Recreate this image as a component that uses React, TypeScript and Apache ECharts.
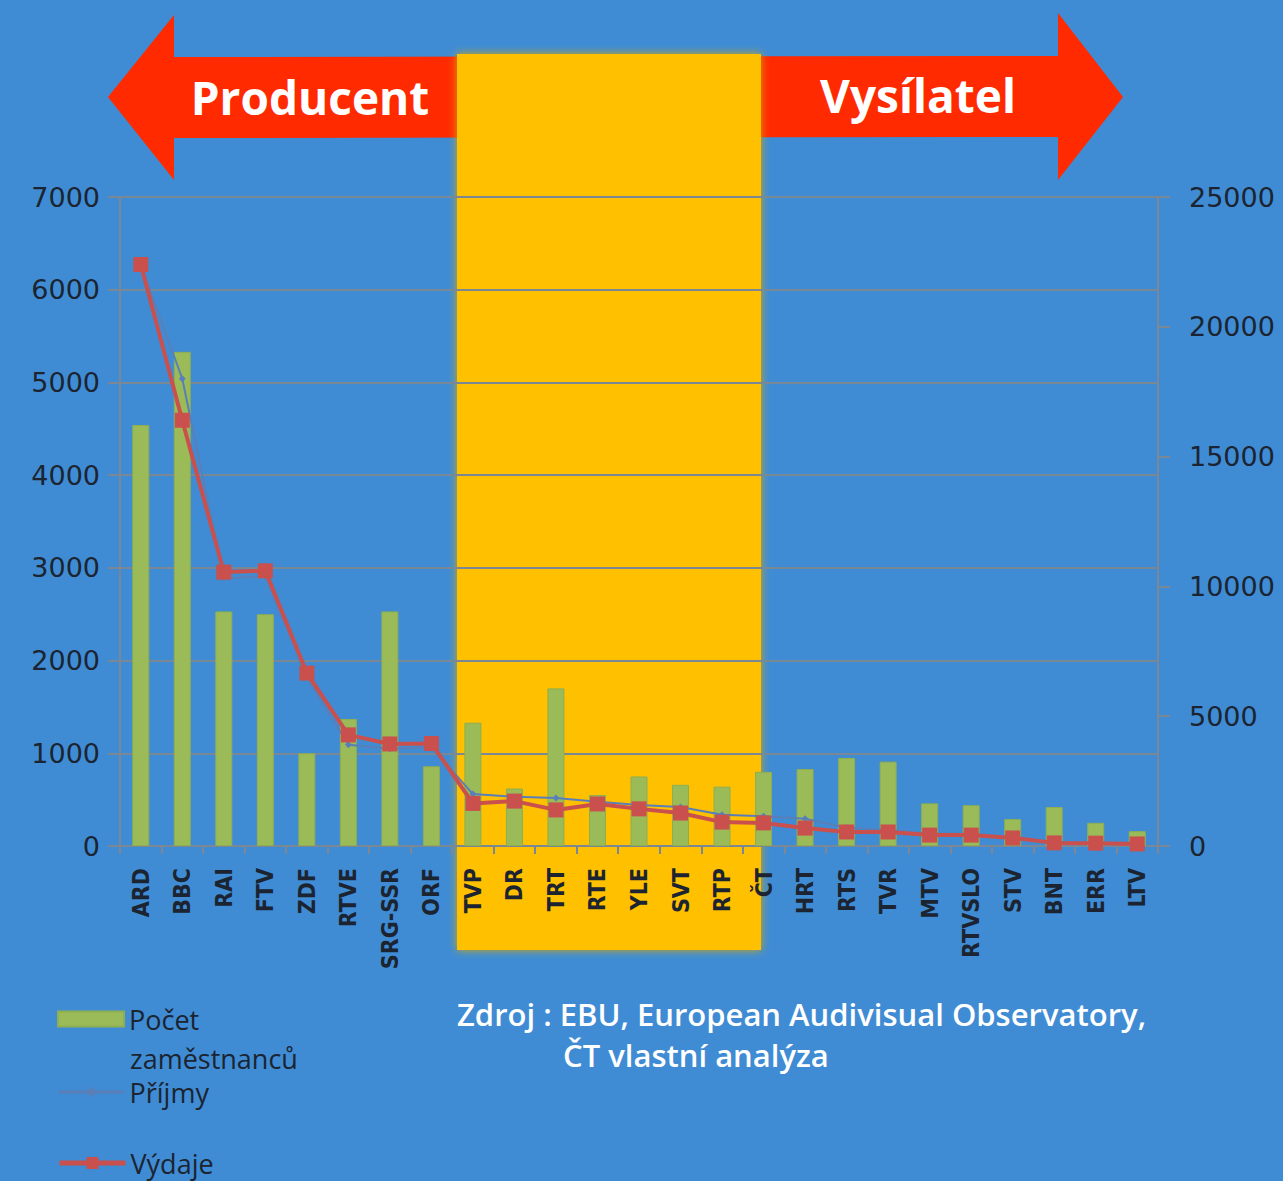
import React, { useEffect, useRef } from "react";
import * as echarts from "echarts";

const categories = ["ARD","BBC","RAI","FTV","ZDF","RTVE","SRG-SSR","ORF","TVP","DR","TRT","RTE","YLE","SVT","RTP","ČT","HRT","RTS","TVR","MTV","RTVSLO","STV","BNT","ERR","LTV"];
const employees = [4540,5330,2530,2500,1000,1370,2530,860,1330,620,1700,550,750,660,640,800,830,950,910,460,440,290,420,250,160];
const revenues = [22400,18000,10300,10400,6500,3900,3750,3800,2000,1900,1850,1700,1580,1500,1200,1150,1050,700,620,480,470,350,150,130,100];
const expenses = [22400,16400,10550,10600,6660,4280,3930,3950,1640,1730,1390,1620,1430,1270,920,890,690,540,540,420,420,310,120,110,80];
const leftTicks = { min: 0, max: 7000, interval: 1000 };
const rightTicks = { min: 0, max: 25000, interval: 5000 };

const BG = "#3f8cd4";
const GRID = "#7a8896";
const TXT = "#1b2430";
const AXFONT = "DejaVu Sans";

export default function App() {
  const ref = useRef<HTMLDivElement>(null);
  useEffect(() => {
    const chart = echarts.init(ref.current!, null, { renderer: "svg" });
    const legendText = { fontFamily: "Open Sans", fontSize: 27, lineHeight: 32, color: TXT };
    chart.setOption({
      animation: false,
      backgroundColor: BG,
      grid: { left: 120, right: 125, top: 197, bottom: 335 },
      legend: [
        {
          data: [{ name: "Počet zaměstnanců", icon: "rect" }], orient: "vertical", left: 57, top: 1003, padding: 0,
          itemWidth: 66, itemHeight: 15, formatter: () => "Počet",
          textStyle: legendText,
        },
        {
          data: ["Příjmy"], orient: "vertical", left: 57, top: 1076, padding: 0,
          itemWidth: 66, itemHeight: 14, lineStyle: { width: 3 },
          textStyle: legendText,
        },
        {
          data: ["Výdaje"], orient: "vertical", left: 57, top: 1147, padding: 0,
          itemWidth: 66, itemHeight: 15, lineStyle: { width: 5 },
          textStyle: legendText,
        },
      ],
      xAxis: {
        type: "category",
        data: categories,
        boundaryGap: true,
        axisLine: { show: true, lineStyle: { color: GRID, width: 2 } },
        axisTick: { show: true, length: 8, alignWithLabel: false, lineStyle: { color: GRID, width: 2 } },
        axisLabel: {
          rotate: 90, margin: 22, interval: 0, color: TXT,
          fontFamily: "DejaVu Sans Condensed", fontSize: 23, fontWeight: "bold",
        },
      },
      yAxis: [
        {
          type: "value", ...leftTicks, position: "left",
          axisLine: { show: true, lineStyle: { color: GRID, width: 2 } },
          axisTick: { show: true, length: 12, lineStyle: { color: GRID, width: 2 } },
          splitLine: { show: true, lineStyle: { color: GRID, width: 2 } },
          axisLabel: { margin: 20, color: TXT, fontFamily: AXFONT, fontSize: 27, formatter: (v: number) => String(v) },
        },
        {
          type: "value", ...rightTicks, position: "right",
          axisLine: { show: true, lineStyle: { color: GRID, width: 2 } },
          axisTick: { show: true, length: 12, lineStyle: { color: GRID, width: 2 } },
          splitLine: { show: false },
          axisLabel: { margin: 31, color: TXT, fontFamily: AXFONT, fontSize: 27, formatter: (v: number) => String(v) },
        },
      ],
      series: [
        {
          name: "Počet zaměstnanců", type: "bar", data: employees, yAxisIndex: 0,
          barWidth: 17, itemStyle: { color: "#9bbb59", borderColor: "#8fae50", borderWidth: 1 }, z: 2,
        },
        {
          name: "Příjmy", type: "line", data: revenues, yAxisIndex: 1,
          lineStyle: { color: "#5a7fb8", width: 2 }, itemStyle: { color: "#5a7fb8" },
          symbol: "diamond", symbolSize: 7, z: 3,
        },
        {
          name: "Výdaje", type: "line", data: expenses, yAxisIndex: 1,
          lineStyle: { color: "#c9504d", width: 4 }, itemStyle: { color: "#c9504d" },
          symbol: "rect", symbolSize: 15, z: 4,
        },
      ],
      graphic: [
        {
          type: "polygon", z: -2,
          shape: { points: [[108, 97], [174, 15], [174, 57], [1058, 56], [1058, 13], [1123, 97], [1058, 180], [1058, 137], [174, 138], [174, 180]] },
          style: { fill: "#ff2a00" },
        },
        {
          type: "rect", z: -1,
          shape: { x: 457, y: 54, width: 304, height: 896 },
          style: { fill: "#ffc000", shadowBlur: 8, shadowColor: "#d9a800" },
        },
        {
          type: "text", z: 5, x: 310, y: 97,
          style: { text: "Producent", fill: "#ffffff", font: "bold 46px 'Open Sans'", align: "center", verticalAlign: "middle" },
        },
        {
          type: "text", z: 5, x: 918, y: 95,
          style: { text: "Vysílatel", fill: "#ffffff", font: "bold 46px 'Open Sans'", align: "center", verticalAlign: "middle" },
        },
        {
          type: "text", z: 5, x: 130, y: 1058,
          style: { text: "zaměstnanců", fill: TXT, font: "27px 'Open Sans'", align: "left", verticalAlign: "middle" },
        },
        {
          type: "text", z: 5, x: 457, y: 1014,
          style: { text: "Zdroj : EBU, European Audivisual Observatory,", fill: "#ffffff", font: "600 31px 'Open Sans'", align: "left", verticalAlign: "middle" },
        },
        {
          type: "text", z: 5, x: 563, y: 1055,
          style: { text: "ČT vlastní analýza", fill: "#ffffff", font: "600 31px 'Open Sans'", align: "left", verticalAlign: "middle" },
        },
      ],
    });
    return () => chart.dispose();
  }, []);
  return <div ref={ref} style={{ position: "absolute", left: 0, top: 0, width: 1283, height: 1181 }} />;
}
